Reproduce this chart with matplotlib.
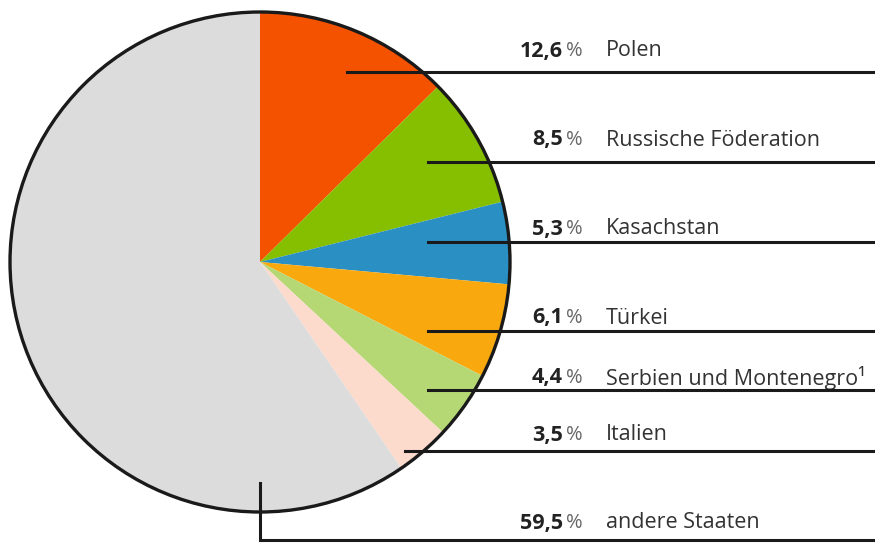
import matplotlib.pyplot as plt
from matplotlib.patches import Circle

# data
countries = ["Polen", "Russische Föderation", "Kasachstan", "Türkei",
             "Serbien und Montenegro¹", "Italien", "andere Staaten"]
shares = [12.6, 8.5, 5.3, 6.1, 4.4, 3.5, 59.5]
share_labels = ["12,6", "8,5", "5,3", "6,1", "4,4", "3,5", "59,5"]
colors = ["#F55200", "#86BE00", "#2A8FC3", "#F9A90E", "#B5D874", "#FCDACC", "#DCDCDC"]

# layout (pixel coordinates, y measured from top)
W, H = 875, 543
cx, cy, r = 260, 262, 250
line_y = [72, 162, 242, 331, 390, 451, 540]
line_x0 = [347, 428, 428, 428, 428, 405, 260]
text_y = [51, 140, 229, 318, 378, 435, 523]

plt.rcParams['font.family'] = ['Open Sans', 'DejaVu Sans']

fig = plt.figure(figsize=(W / 100, H / 100), dpi=100)
ax = fig.add_axes([0, 0, 1, 1])

ax.pie(shares, colors=colors, startangle=90, counterclock=False,
       center=(cx, H - cy), radius=r, wedgeprops=dict(linewidth=0),
       frame=True)
ax.set_xlim(0, W)
ax.set_ylim(0, H)
ax.set_aspect('equal')
ax.axis('off')
ax.add_patch(Circle((cx, H - cy), r, fill=False, edgecolor='#1a1a1a', lw=2.4, zorder=3))

fs = 15.5
for i, name in enumerate(countries):
    y = H - line_y[i]
    if i == len(countries) - 1:
        ax.plot([line_x0[i], line_x0[i], W], [H - 483, y, y], color='#1a1a1a',
                lw=2.2, solid_joinstyle='miter', zorder=4)
    else:
        ax.plot([line_x0[i], W], [y, y], color='#1a1a1a', lw=2.2, zorder=4)
    ty = H - text_y[i]
    ax.text(563, ty, share_labels[i], ha='right', va='center', fontsize=fs,
            fontweight='bold', color='#222222')
    ax.text(566, ty, "%", ha='left', va='center', fontsize=fs - 1, color='#666666')
    ax.text(606, ty, name, ha='left', va='center', fontsize=fs, color='#333333')

fig.savefig("out.png", dpi=100)
